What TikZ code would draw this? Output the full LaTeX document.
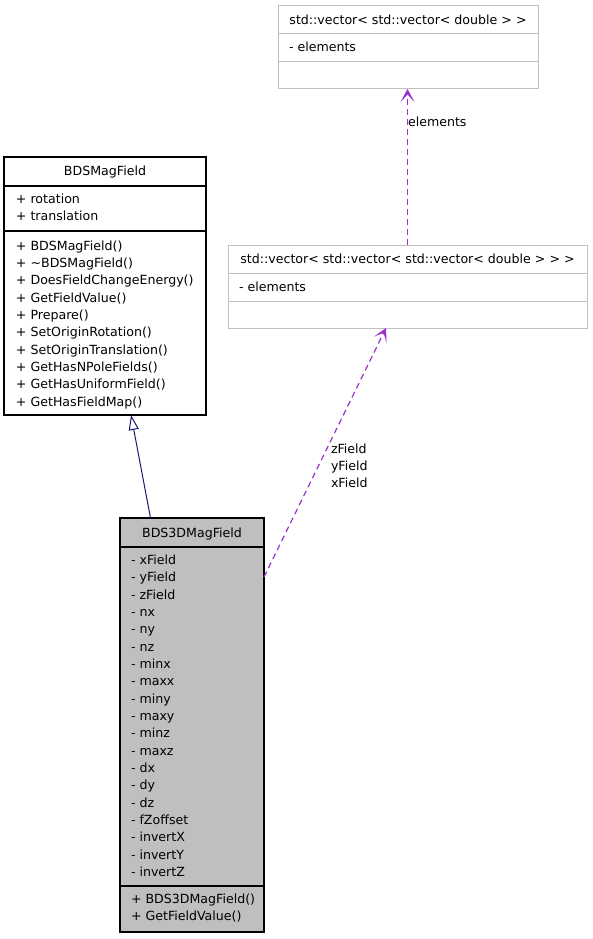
\documentclass[tikz,border=0pt]{standalone}
\usepackage{fontspec}
\setmainfont{DejaVu Sans}
\usetikzlibrary{arrows.meta,calc}
\definecolor{boxfill}{HTML}{BFBFBF}
\definecolor{edgegray}{HTML}{BFBFBF}
\definecolor{inhblue}{HTML}{191970}
\definecolor{usepurple}{HTML}{9A32CD}
\begin{document}
\begin{tikzpicture}[x=1pt,y=-1pt,
  every node/.style={font=\fontsize{12.6}{15}\selectfont, inner sep=0pt, outer sep=0pt},
  txt/.style={anchor=base west},
  ttl/.style={anchor=base},
  graybox/.style={draw=edgegray, line width=1pt, rectangle},
  blackbox/.style={draw=black, line width=1.2pt, rectangle},
  sepgray/.style={draw=edgegray, line width=1pt},
  sepblack/.style={draw=black, line width=1.2pt},
  inherit/.style={draw=inhblue, line width=1pt, -{Triangle[open, length=15pt, width=10pt, fill=white, line width=1pt]}},
  usage/.style={draw=usepurple, line width=1.2pt, dash pattern=on 6pt off 4pt, -{Stealth[length=13pt, width=14pt, inset=7.5pt]}}
]
\useasboundingbox (0,0) rectangle (592,939);

% std::vector< std::vector< double > >
\node[graybox, minimum width=260pt, minimum height=83pt] (v2) at (408,47.5) {};
\draw[sepgray] (v2.west |- 0,34) -- (v2.east |- 0,34);
\draw[sepgray] (v2.west |- 0,62) -- (v2.east |- 0,62);
\node[ttl] (v2t) at (408,24.5) {std::vector< std::vector< double > >};
\node[txt] (v2a) at (289,52) {- elements};

% std::vector< std::vector< std::vector< double > > >
\node[graybox, minimum width=359pt, minimum height=83pt] (v3) at (407.5,286.5) {};
\draw[sepgray] (v3.west |- 0,273) -- (v3.east |- 0,273);
\draw[sepgray] (v3.west |- 0,301) -- (v3.east |- 0,301);
\node[ttl] (v3t) at (407.5,263.5) {std::vector< std::vector< std::vector< double > > >};
\node[txt] (v3a) at (239,291.5) {- elements};

% BDSMagField
\node[blackbox, fill=white, minimum width=202pt, minimum height=258pt] (mag) at (105,286) {};
\draw[sepblack] (mag.west |- 0,186) -- (mag.east |- 0,186);
\draw[sepblack] (mag.west |- 0,231) -- (mag.east |- 0,231);
\node[ttl] (magt) at (105,175.5) {BDSMagField};
\node[txt] (maga1) at (16,203.5) {+ rotation};
\node[txt] (maga2) at (16,220.8) {+ translation};
\foreach \t [count=\i from 0] in {BDSMagField(), \textasciitilde BDSMagField(), DoesFieldChangeEnergy(), GetFieldValue(), Prepare(), SetOriginRotation(), SetOriginTranslation(), GetHasNPoleFields(), GetHasUniformField(), GetHasFieldMap()}
  \node[txt] (magm\i) at (16,250.2+17.33*\i) {+ \t};

% BDS3DMagField
\node[blackbox, fill=boxfill, minimum width=144pt, minimum height=414pt] (d3) at (192,725) {};
\draw[sepblack] (d3.west |- 0,547) -- (d3.east |- 0,547);
\draw[sepblack] (d3.west |- 0,886) -- (d3.east |- 0,886);
\node[ttl] (d3t) at (192,537) {BDS3DMagField};
\foreach \t [count=\i from 0] in {xField, yField, zField, nx, ny, nz, minx, maxx, miny, maxy, minz, maxz, dx, dy, dz, fZoffset, invertX, invertY, invertZ}
  \node[txt] (d3a\i) at (131,564.5+17.33*\i) {- \t};
\node[txt] (d3m0) at (131,903.5) {+ BDS3DMagField()};
\node[txt] (d3m1) at (131,920.8) {+ GetFieldValue()};

% connectors
\draw[inherit] ($(d3.north west)+(30.5,0)$) -- ($(mag.south west)+(127,0)$);
\draw[usage] ($(d3.north east)+(0,59)$) -- ($(v3.south)+(-21.5,0)$);
\draw[usage] (v3.north) -- (v3.north |- v2.south);

% edge labels
\node[txt] (lblel) at (408,127) {elements};
\node[txt] (lblz) at (331,453.5) {zField};
\node[txt] (lbly) at (331,470.5) {yField};
\node[txt] (lblx) at (331,487.5) {xField};
\end{tikzpicture}
\end{document}
